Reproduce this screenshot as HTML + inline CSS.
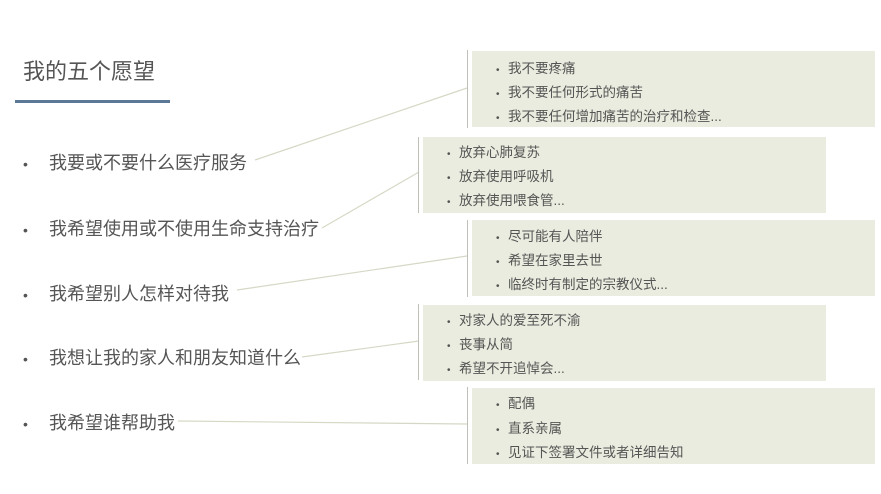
<!DOCTYPE html>
<html><head><meta charset="utf-8"><style>
body{margin:0;width:881px;height:494px;background:#fff;position:relative;overflow:hidden;font-family:"Liberation Sans","Noto Sans CJK SC",sans-serif;color:#555}
.t{position:absolute;left:23px;top:58px;font-size:22px;color:#555;line-height:28px}
.ul{position:absolute;left:15px;top:100px;width:155px;height:3px;background:#5b7897}
.m{position:absolute;left:23px;font-size:18px;line-height:22px;white-space:nowrap}
.m span{display:inline-block;width:26px;font-size:14px}
.b{position:absolute;width:403px;height:76px;background:#e9ecde;border-left:1px solid #fff}
.bl{position:absolute;width:1px;background:#bfc0b8}
.b div{position:absolute;font-size:13.5px;line-height:16px;white-space:nowrap;color:#555}
.b div span{display:inline-block;width:12px;font-size:10px}
</style></head><body>
<div class="t">我的五个愿望</div>
<div class="ul"></div>
<svg width="881" height="494" style="position:absolute;left:0;top:0">
<g stroke="#d6d8c6" stroke-width="1.2" fill="none">
<line x1="255" y1="160" x2="467" y2="88"/>
<line x1="322" y1="228" x2="419" y2="172"/>
<line x1="237" y1="290" x2="467" y2="256"/>
<line x1="302" y1="357" x2="419" y2="341"/>
<line x1="178" y1="421" x2="467" y2="424"/>
</g></svg>
<div class="m" style="top:152px"><span>•</span>我要或不要什么医疗服务</div>
<div class="m" style="top:218px"><span>•</span>我希望使用或不使用生命支持治疗</div>
<div class="m" style="top:283px"><span>•</span>我希望别人怎样对待我</div>
<div class="m" style="top:347px"><span>•</span>我想让我的家人和朋友知道什么</div>
<div class="m" style="top:412px"><span>•</span>我希望谁帮助我</div>

<div class="bl" style="left:467px;top:50px;height:78px"></div>
<div class="b" style="left:471px;top:51px"><div style="left:24px;top:10px"><span>•</span>我不要疼痛</div><div style="left:24px;top:34px"><span>•</span>我不要任何形式的痛苦</div><div style="left:24px;top:58px"><span>•</span>我不要任何增加痛苦的治疗和检查...</div></div>

<div class="bl" style="left:418px;top:137px;height:76px"></div>
<div class="b" style="left:422px;top:137px"><div style="left:24px;top:8px"><span>•</span>放弃心肺复苏</div><div style="left:24px;top:32px"><span>•</span>放弃使用呼吸机</div><div style="left:24px;top:56px"><span>•</span>放弃使用喂食管...</div></div>

<div class="bl" style="left:467px;top:220px;height:77px"></div>
<div class="b" style="left:471px;top:220px"><div style="left:24px;top:9px"><span>•</span>尽可能有人陪伴</div><div style="left:24px;top:33px"><span>•</span>希望在家里去世</div><div style="left:24px;top:57px"><span>•</span>临终时有制定的宗教仪式...</div></div>

<div class="bl" style="left:418px;top:304px;height:76px"></div>
<div class="b" style="left:422px;top:305px"><div style="left:24px;top:8px"><span>•</span>对家人的爱至死不渝</div><div style="left:24px;top:32px"><span>•</span>丧事从简</div><div style="left:24px;top:56px"><span>•</span>希望不开追悼会...</div></div>

<div class="bl" style="left:467px;top:387px;height:77px"></div>
<div class="b" style="left:471px;top:388px"><div style="left:24px;top:8px"><span>•</span>配偶</div><div style="left:24px;top:33px"><span>•</span>直系亲属</div><div style="left:24px;top:57px"><span>•</span>见证下签署文件或者详细告知</div></div>
</body></html>
